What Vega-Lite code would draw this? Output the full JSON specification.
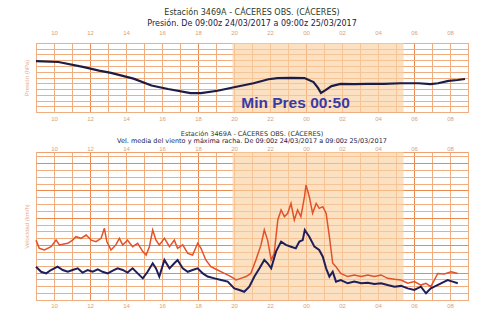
{
  "$schema": "https://vega.github.io/schema/vega-lite/v6.json",
  "background": "#ffffff",
  "padding": {"left": 22, "top": 8, "right": 8, "bottom": 0},
  "spacing": 8,
  "config": {
    "view": {"stroke": "#f0a070", "strokeWidth": 1, "fill": "#ffffff"},
    "axis": {"labelFont": "Liberation Sans", "titleFont": "Liberation Sans"},
    "title": {"font": "DejaVu Sans", "fontWeight": "normal", "anchor": "middle", "color": "#2c3a2a", "subtitleFont": "DejaVu Sans", "subtitleColor": "#1c2244", "subtitlePadding": 0}
  },
  "datasets": {
    "noche": [{"ini": "2017-03-24T19:55:00Z", "fin": "2017-03-25T05:25:00Z"}],
    "presion": [
      {"t": "2017-03-24T09:00:00Z", "p": 1015.43},
      {"t": "2017-03-24T10:15:00Z", "p": 1015.35},
      {"t": "2017-03-24T11:40:00Z", "p": 1014.9},
      {"t": "2017-03-24T12:30:00Z", "p": 1014.6},
      {"t": "2017-03-24T13:10:00Z", "p": 1014.4},
      {"t": "2017-03-24T14:25:00Z", "p": 1013.9},
      {"t": "2017-03-24T15:25:00Z", "p": 1013.3},
      {"t": "2017-03-24T16:20:00Z", "p": 1013.0},
      {"t": "2017-03-24T17:35:00Z", "p": 1012.65},
      {"t": "2017-03-24T18:10:00Z", "p": 1012.65},
      {"t": "2017-03-24T19:05:00Z", "p": 1012.85},
      {"t": "2017-03-24T20:00:00Z", "p": 1013.15},
      {"t": "2017-03-24T21:05:00Z", "p": 1013.5},
      {"t": "2017-03-24T21:55:00Z", "p": 1013.85},
      {"t": "2017-03-24T22:25:00Z", "p": 1013.95},
      {"t": "2017-03-24T23:10:00Z", "p": 1013.97},
      {"t": "2017-03-24T23:55:00Z", "p": 1013.95},
      {"t": "2017-03-25T00:25:00Z", "p": 1013.6},
      {"t": "2017-03-25T00:40:00Z", "p": 1013.1},
      {"t": "2017-03-25T00:50:00Z", "p": 1012.65},
      {"t": "2017-03-25T01:05:00Z", "p": 1012.9},
      {"t": "2017-03-25T01:25:00Z", "p": 1013.25},
      {"t": "2017-03-25T01:55:00Z", "p": 1013.45},
      {"t": "2017-03-25T02:40:00Z", "p": 1013.42},
      {"t": "2017-03-25T03:25:00Z", "p": 1013.45},
      {"t": "2017-03-25T04:20:00Z", "p": 1013.45},
      {"t": "2017-03-25T05:15:00Z", "p": 1013.5},
      {"t": "2017-03-25T06:15:00Z", "p": 1013.5},
      {"t": "2017-03-25T06:55:00Z", "p": 1013.43},
      {"t": "2017-03-25T07:20:00Z", "p": 1013.5},
      {"t": "2017-03-25T07:55:00Z", "p": 1013.7},
      {"t": "2017-03-25T08:25:00Z", "p": 1013.78},
      {"t": "2017-03-25T08:50:00Z", "p": 1013.87}
    ],
    "racha": [
      {"t": "2017-03-24T09:00:00Z", "v": 43.7},
      {"t": "2017-03-24T09:11:00Z", "v": 37.7},
      {"t": "2017-03-24T09:28:00Z", "v": 36.5},
      {"t": "2017-03-24T09:50:00Z", "v": 38.9},
      {"t": "2017-03-24T10:07:00Z", "v": 43.7},
      {"t": "2017-03-24T10:18:00Z", "v": 40.2},
      {"t": "2017-03-24T10:46:00Z", "v": 41.4},
      {"t": "2017-03-24T11:02:00Z", "v": 43.7},
      {"t": "2017-03-24T11:13:00Z", "v": 46.2},
      {"t": "2017-03-24T11:30:00Z", "v": 45.0},
      {"t": "2017-03-24T11:47:00Z", "v": 47.4},
      {"t": "2017-03-24T12:04:00Z", "v": 43.7},
      {"t": "2017-03-24T12:20:00Z", "v": 42.6},
      {"t": "2017-03-24T12:37:00Z", "v": 45.0},
      {"t": "2017-03-24T12:48:00Z", "v": 52.3},
      {"t": "2017-03-24T12:56:00Z", "v": 42.6},
      {"t": "2017-03-24T13:10:00Z", "v": 36.5},
      {"t": "2017-03-24T13:26:00Z", "v": 40.2},
      {"t": "2017-03-24T13:38:00Z", "v": 45.0},
      {"t": "2017-03-24T13:49:00Z", "v": 40.2},
      {"t": "2017-03-24T14:05:00Z", "v": 43.7},
      {"t": "2017-03-24T14:22:00Z", "v": 38.9},
      {"t": "2017-03-24T14:39:00Z", "v": 41.4},
      {"t": "2017-03-24T14:56:00Z", "v": 35.3},
      {"t": "2017-03-24T15:07:00Z", "v": 32.8},
      {"t": "2017-03-24T15:18:00Z", "v": 38.9},
      {"t": "2017-03-24T15:29:00Z", "v": 51.1},
      {"t": "2017-03-24T15:40:00Z", "v": 43.7},
      {"t": "2017-03-24T15:51:00Z", "v": 40.2},
      {"t": "2017-03-24T16:08:00Z", "v": 45.0},
      {"t": "2017-03-24T16:25:00Z", "v": 38.9},
      {"t": "2017-03-24T16:41:00Z", "v": 43.7},
      {"t": "2017-03-24T16:52:00Z", "v": 37.7},
      {"t": "2017-03-24T17:09:00Z", "v": 40.2},
      {"t": "2017-03-24T17:26:00Z", "v": 34.0},
      {"t": "2017-03-24T17:42:00Z", "v": 32.8},
      {"t": "2017-03-24T17:59:00Z", "v": 41.4},
      {"t": "2017-03-24T18:10:00Z", "v": 37.7},
      {"t": "2017-03-24T18:26:00Z", "v": 29.2},
      {"t": "2017-03-24T18:43:00Z", "v": 24.3},
      {"t": "2017-03-24T19:05:00Z", "v": 21.9},
      {"t": "2017-03-24T19:28:00Z", "v": 19.4},
      {"t": "2017-03-24T19:50:00Z", "v": 17.1},
      {"t": "2017-03-24T20:07:00Z", "v": 14.6},
      {"t": "2017-03-24T20:23:00Z", "v": 15.8},
      {"t": "2017-03-24T20:40:00Z", "v": 17.1},
      {"t": "2017-03-24T20:56:00Z", "v": 19.4},
      {"t": "2017-03-24T21:13:00Z", "v": 29.2},
      {"t": "2017-03-24T21:30:00Z", "v": 40.2},
      {"t": "2017-03-24T21:41:00Z", "v": 51.1},
      {"t": "2017-03-24T21:52:00Z", "v": 43.7},
      {"t": "2017-03-24T22:04:00Z", "v": 29.2},
      {"t": "2017-03-24T22:14:00Z", "v": 34.0},
      {"t": "2017-03-24T22:26:00Z", "v": 58.4},
      {"t": "2017-03-24T22:37:00Z", "v": 65.7},
      {"t": "2017-03-24T22:48:00Z", "v": 60.8},
      {"t": "2017-03-24T22:59:00Z", "v": 63.3},
      {"t": "2017-03-24T23:10:00Z", "v": 70.5},
      {"t": "2017-03-24T23:21:00Z", "v": 58.4},
      {"t": "2017-03-24T23:32:00Z", "v": 65.7},
      {"t": "2017-03-24T23:43:00Z", "v": 60.8},
      {"t": "2017-03-24T23:55:00Z", "v": 75.4},
      {"t": "2017-03-25T00:00:00Z", "v": 83.9},
      {"t": "2017-03-25T00:11:00Z", "v": 75.4},
      {"t": "2017-03-25T00:22:00Z", "v": 63.3},
      {"t": "2017-03-25T00:34:00Z", "v": 70.5},
      {"t": "2017-03-25T00:44:00Z", "v": 66.9},
      {"t": "2017-03-25T00:56:00Z", "v": 68.1},
      {"t": "2017-03-25T01:07:00Z", "v": 63.3},
      {"t": "2017-03-25T01:18:00Z", "v": 46.2},
      {"t": "2017-03-25T01:29:00Z", "v": 26.8},
      {"t": "2017-03-25T01:40:00Z", "v": 24.3},
      {"t": "2017-03-25T01:56:00Z", "v": 19.4},
      {"t": "2017-03-25T02:19:00Z", "v": 17.1},
      {"t": "2017-03-25T02:41:00Z", "v": 18.3},
      {"t": "2017-03-25T03:04:00Z", "v": 17.1},
      {"t": "2017-03-25T03:26:00Z", "v": 18.3},
      {"t": "2017-03-25T03:48:00Z", "v": 17.1},
      {"t": "2017-03-25T04:10:00Z", "v": 18.3},
      {"t": "2017-03-25T04:32:00Z", "v": 15.8},
      {"t": "2017-03-25T04:55:00Z", "v": 15.1},
      {"t": "2017-03-25T05:17:00Z", "v": 14.6},
      {"t": "2017-03-25T05:39:00Z", "v": 12.2},
      {"t": "2017-03-25T06:01:00Z", "v": 13.4},
      {"t": "2017-03-25T06:23:00Z", "v": 10.9},
      {"t": "2017-03-25T06:40:00Z", "v": 12.2},
      {"t": "2017-03-25T06:56:00Z", "v": 9.7},
      {"t": "2017-03-25T07:08:00Z", "v": 14.6},
      {"t": "2017-03-25T07:19:00Z", "v": 19.4},
      {"t": "2017-03-25T07:41:00Z", "v": 19.0},
      {"t": "2017-03-25T08:04:00Z", "v": 20.6},
      {"t": "2017-03-25T08:26:00Z", "v": 19.4}
    ],
    "media": [
      {"t": "2017-03-24T09:00:00Z", "v": 24.3},
      {"t": "2017-03-24T09:17:00Z", "v": 20.6},
      {"t": "2017-03-24T09:34:00Z", "v": 19.4},
      {"t": "2017-03-24T09:50:00Z", "v": 21.9},
      {"t": "2017-03-24T10:12:00Z", "v": 24.3},
      {"t": "2017-03-24T10:29:00Z", "v": 21.9},
      {"t": "2017-03-24T10:46:00Z", "v": 20.6},
      {"t": "2017-03-24T11:02:00Z", "v": 21.9},
      {"t": "2017-03-24T11:19:00Z", "v": 23.1},
      {"t": "2017-03-24T11:35:00Z", "v": 20.0},
      {"t": "2017-03-24T11:52:00Z", "v": 21.9},
      {"t": "2017-03-24T12:09:00Z", "v": 20.6},
      {"t": "2017-03-24T12:26:00Z", "v": 22.4},
      {"t": "2017-03-24T12:42:00Z", "v": 20.6},
      {"t": "2017-03-24T12:59:00Z", "v": 19.4},
      {"t": "2017-03-24T13:16:00Z", "v": 21.4},
      {"t": "2017-03-24T13:32:00Z", "v": 23.1},
      {"t": "2017-03-24T13:49:00Z", "v": 21.9},
      {"t": "2017-03-24T14:05:00Z", "v": 20.0},
      {"t": "2017-03-24T14:22:00Z", "v": 23.1},
      {"t": "2017-03-24T14:39:00Z", "v": 19.4},
      {"t": "2017-03-24T14:56:00Z", "v": 15.8},
      {"t": "2017-03-24T15:12:00Z", "v": 20.6},
      {"t": "2017-03-24T15:29:00Z", "v": 26.8},
      {"t": "2017-03-24T15:40:00Z", "v": 23.1},
      {"t": "2017-03-24T15:51:00Z", "v": 17.1},
      {"t": "2017-03-24T16:08:00Z", "v": 29.2},
      {"t": "2017-03-24T16:25:00Z", "v": 23.1},
      {"t": "2017-03-24T16:41:00Z", "v": 26.8},
      {"t": "2017-03-24T16:52:00Z", "v": 29.2},
      {"t": "2017-03-24T17:09:00Z", "v": 23.1},
      {"t": "2017-03-24T17:26:00Z", "v": 20.6},
      {"t": "2017-03-24T17:42:00Z", "v": 21.9},
      {"t": "2017-03-24T17:59:00Z", "v": 23.1},
      {"t": "2017-03-24T18:16:00Z", "v": 19.4},
      {"t": "2017-03-24T18:32:00Z", "v": 17.1},
      {"t": "2017-03-24T18:55:00Z", "v": 15.8},
      {"t": "2017-03-24T19:17:00Z", "v": 14.6},
      {"t": "2017-03-24T19:39:00Z", "v": 13.4},
      {"t": "2017-03-24T20:01:00Z", "v": 8.5},
      {"t": "2017-03-24T20:18:00Z", "v": 7.3},
      {"t": "2017-03-24T20:34:00Z", "v": 6.0},
      {"t": "2017-03-24T20:51:00Z", "v": 9.7},
      {"t": "2017-03-24T21:08:00Z", "v": 17.1},
      {"t": "2017-03-24T21:25:00Z", "v": 23.1},
      {"t": "2017-03-24T21:41:00Z", "v": 29.2},
      {"t": "2017-03-24T21:52:00Z", "v": 26.8},
      {"t": "2017-03-24T22:04:00Z", "v": 23.1},
      {"t": "2017-03-24T22:20:00Z", "v": 35.3},
      {"t": "2017-03-24T22:37:00Z", "v": 42.6},
      {"t": "2017-03-24T22:53:00Z", "v": 40.2},
      {"t": "2017-03-24T23:10:00Z", "v": 38.9},
      {"t": "2017-03-24T23:26:00Z", "v": 37.7},
      {"t": "2017-03-24T23:38:00Z", "v": 42.6},
      {"t": "2017-03-24T23:49:00Z", "v": 43.7},
      {"t": "2017-03-24T23:56:00Z", "v": 51.1},
      {"t": "2017-03-25T00:11:00Z", "v": 46.2},
      {"t": "2017-03-25T00:28:00Z", "v": 38.9},
      {"t": "2017-03-25T00:44:00Z", "v": 36.5},
      {"t": "2017-03-25T00:56:00Z", "v": 31.6},
      {"t": "2017-03-25T01:07:00Z", "v": 23.1},
      {"t": "2017-03-25T01:18:00Z", "v": 17.1},
      {"t": "2017-03-25T01:29:00Z", "v": 20.6},
      {"t": "2017-03-25T01:40:00Z", "v": 13.4},
      {"t": "2017-03-25T01:56:00Z", "v": 14.6},
      {"t": "2017-03-25T02:19:00Z", "v": 12.2},
      {"t": "2017-03-25T02:41:00Z", "v": 13.4},
      {"t": "2017-03-25T03:04:00Z", "v": 12.2},
      {"t": "2017-03-25T03:26:00Z", "v": 12.6},
      {"t": "2017-03-25T03:48:00Z", "v": 11.7},
      {"t": "2017-03-25T04:10:00Z", "v": 12.2},
      {"t": "2017-03-25T04:32:00Z", "v": 10.9},
      {"t": "2017-03-25T04:55:00Z", "v": 9.7},
      {"t": "2017-03-25T05:17:00Z", "v": 10.3},
      {"t": "2017-03-25T05:39:00Z", "v": 8.5},
      {"t": "2017-03-25T06:01:00Z", "v": 7.3},
      {"t": "2017-03-25T06:23:00Z", "v": 9.7},
      {"t": "2017-03-25T06:40:00Z", "v": 4.9},
      {"t": "2017-03-25T06:56:00Z", "v": 8.5},
      {"t": "2017-03-25T07:08:00Z", "v": 9.7},
      {"t": "2017-03-25T07:30:00Z", "v": 12.2},
      {"t": "2017-03-25T07:52:00Z", "v": 14.6},
      {"t": "2017-03-25T08:09:00Z", "v": 13.4},
      {"t": "2017-03-25T08:26:00Z", "v": 12.2}
    ]
  },
  "vconcat": [
    {
      "title": {"text": "Estación 3469A - CÁCERES OBS. (CÁCERES)", "subtitle": "Presión. De 09:00z 24/03/2017 a 09:00z 25/03/2017", "fontSize": 8, "subtitleFontSize": 8, "offset": 1},
      "width": 432,
      "height": 69,
      "resolve": {"axis": {"x": "independent", "y": "independent"}},
      "layer": [
        {
          "data": {"name": "noche"},
          "mark": {"type": "rect", "color": "#f9cf9f", "opacity": 0.65},
          "encoding": {
            "x": {"field": "ini", "type": "temporal",
              "scale": {"type": "utc", "domain": ["2017-03-24T09:00:00Z", "2017-03-25T09:00:00Z"]},
              "axis": {"orient": "top", "title": null, "values": [1490349600000, 1490356800000, 1490364000000, 1490371200000, 1490378400000, 1490385600000, 1490392800000, 1490400000000, 1490407200000, 1490414400000, 1490421600000, 1490428800000], "format": "%H", "grid": false, "ticks": false, "domain": false, "labelFontSize": 6, "labelColor": "#d9a07c", "labelPadding": 8, "labelFlush": false, "labelOverlap": false}},
            "x2": {"field": "fin"}
          }
        },
        {
          "data": {"name": "presion"},
          "mark": {"type": "line", "color": "#1c1c44", "strokeWidth": 2.2},
          "encoding": {
            "x": {"field": "t", "type": "temporal",
              "axis": {"orient": "bottom", "title": null, "values": [1490346000000, 1490349600000, 1490353200000, 1490356800000, 1490360400000, 1490364000000, 1490367600000, 1490371200000, 1490374800000, 1490378400000, 1490382000000, 1490385600000, 1490389200000, 1490392800000, 1490396400000, 1490400000000, 1490403600000, 1490407200000, 1490410800000, 1490414400000, 1490418000000, 1490421600000, 1490425200000, 1490428800000, 1490432400000], "format": "%H", "labelExpr": "utchours(datum.value) % 2 == 0 ? datum.label : ''", "grid": true, "gridColor": "#f0ae80", "gridOpacity": 1, "gridWidth": 1, "ticks": false, "domain": false, "labelFontSize": 6, "labelColor": "#d9a07c", "labelPadding": 3, "labelFlush": false, "labelOverlap": false}},
            "y": {"field": "p", "type": "quantitative",
              "scale": {"domain": [1011, 1017], "nice": false, "zero": false},
              "axis": {"orient": "left", "title": "Presión (hPa)", "values": [1011, 1011.5, 1012, 1012.5, 1013, 1013.5, 1014, 1014.5, 1015, 1015.5, 1016, 1016.5, 1017], "grid": true, "gridColor": "#f0ae80", "gridOpacity": 1, "gridWidth": 1, "labels": false, "ticks": false, "domain": false, "titleFontSize": 6, "titleColor": "#e6ad88", "titleFontWeight": "normal", "titlePadding": 7}}
          }
        },
        {
          "data": {"values": [{"t": "2017-03-24T23:25:00Z", "p": 1011.75, "etiqueta": "Min Pres 00:50"}]},
          "mark": {"type": "text", "font": "Liberation Sans", "fontWeight": "bold", "fontSize": 15.5, "color": "#3a3aa6", "align": "center", "baseline": "middle"},
          "encoding": {
            "x": {"field": "t", "type": "temporal",
              "axis": {"orient": "bottom", "title": null, "values": [1490356800000, 1490378400000, 1490400000000, 1490421600000], "grid": true, "gridColor": "#e98a4e", "gridOpacity": 1, "gridWidth": 1, "labels": false, "ticks": false, "domain": false}},
            "y": {"field": "p", "type": "quantitative", "axis": null},
            "text": {"field": "etiqueta"}
          }
        }
      ]
    },
    {
      "title": {"text": "Estación 3469A - CÁCERES OBS. (CÁCERES)", "subtitle": "Vel. media del viento y máxima racha. De 09:00z 24/03/2017 a 09:00z 25/03/2017", "fontSize": 6.5, "subtitleFontSize": 6.5, "subtitlePadding": 0, "offset": 1},
      "width": 432,
      "height": 148,
      "resolve": {"axis": {"x": "independent", "y": "independent"}},
      "layer": [
        {
          "data": {"name": "noche"},
          "mark": {"type": "rect", "color": "#f9cf9f", "opacity": 0.65},
          "encoding": {
            "x": {"field": "ini", "type": "temporal",
              "scale": {"type": "utc", "domain": ["2017-03-24T09:00:00Z", "2017-03-25T09:00:00Z"]},
              "axis": {"orient": "top", "title": null, "values": [1490349600000, 1490356800000, 1490364000000, 1490371200000, 1490378400000, 1490385600000, 1490392800000, 1490400000000, 1490407200000, 1490414400000, 1490421600000, 1490428800000], "format": "%H", "grid": false, "ticks": false, "domain": false, "labelFontSize": 6, "labelColor": "#d9a07c", "labelPadding": 1, "labelFlush": false, "labelOverlap": false}},
            "x2": {"field": "fin"}
          }
        },
        {
          "data": {"name": "racha"},
          "mark": {"type": "line", "color": "#e2512a", "strokeWidth": 1.5},
          "encoding": {
            "x": {"field": "t", "type": "temporal",
              "axis": {"orient": "bottom", "title": null, "values": [1490346000000, 1490349600000, 1490353200000, 1490356800000, 1490360400000, 1490364000000, 1490367600000, 1490371200000, 1490374800000, 1490378400000, 1490382000000, 1490385600000, 1490389200000, 1490392800000, 1490396400000, 1490400000000, 1490403600000, 1490407200000, 1490410800000, 1490414400000, 1490418000000, 1490421600000, 1490425200000, 1490428800000, 1490432400000], "format": "%H", "labelExpr": "utchours(datum.value) % 2 == 0 ? datum.label : ''", "grid": true, "gridColor": "#f0ae80", "gridOpacity": 1, "gridWidth": 1, "ticks": false, "domain": false, "labelFontSize": 6, "labelColor": "#d9a07c", "labelPadding": 2, "labelFlush": false, "labelOverlap": false}},
            "y": {"field": "v", "type": "quantitative",
              "scale": {"domain": [0, 108], "nice": false},
              "axis": {"orient": "left", "title": "Velocidad (km/h)", "values": [0, 5, 10, 15, 20, 25, 30, 35, 40, 45, 50, 55, 60, 65, 70, 75, 80, 85, 90, 95, 100, 105], "grid": true, "gridColor": "#f0ae80", "gridOpacity": 1, "gridWidth": 1, "labels": false, "ticks": false, "domain": false, "titleFontSize": 6, "titleColor": "#e6ad88", "titleFontWeight": "normal", "titlePadding": 7}}
          }
        },
        {
          "data": {"name": "media"},
          "mark": {"type": "line", "color": "#1e1e5a", "strokeWidth": 2},
          "encoding": {
            "x": {"field": "t", "type": "temporal",
              "axis": {"orient": "bottom", "title": null, "values": [1490356800000, 1490378400000, 1490400000000, 1490421600000], "grid": true, "gridColor": "#e98a4e", "gridOpacity": 1, "gridWidth": 1, "labels": false, "ticks": false, "domain": false}},
            "y": {"field": "v", "type": "quantitative",
              "axis": {"orient": "left", "title": null, "values": [20, 40, 60, 80, 100], "grid": true, "gridColor": "#e98a4e", "gridOpacity": 1, "gridWidth": 1, "labels": false, "ticks": false, "domain": false}}
          }
        }
      ]
    }
  ]
}
